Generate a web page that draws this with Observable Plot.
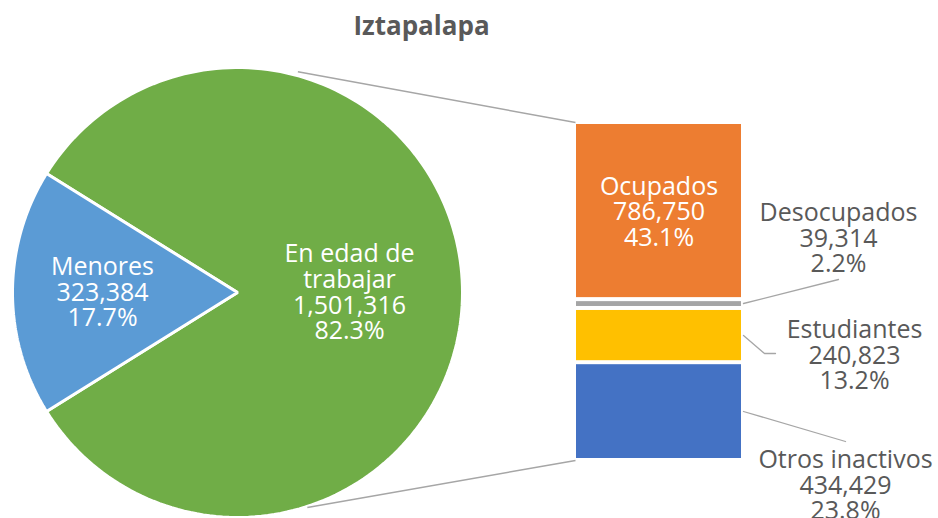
<!DOCTYPE html>
<html>
<head>
<meta charset="utf-8">
<script src="https://cdn.jsdelivr.net/npm/d3@7"></script>
<script src="https://cdn.jsdelivr.net/npm/@observablehq/plot@0.6"></script>
<style>
  html, body { margin: 0; padding: 0; background: #ffffff; }
  #chart { width: 938px; height: 518px; }
</style>
</head>
<body>
<div id="chart"></div>
<script>
// ---- Data ----
const title = "Iztapalapa";
const pieLabels = ["Menores", "En edad de\ntrabajar"];
const pieValues = [323384, 1501316];
const piePct = ["17.7%", "82.3%"];
const pieColors = ["#5B9BD5", "#70AD47"];

const barLabels = ["Ocupados", "Desocupados", "Estudiantes", "Otros inactivos"];
const barValues = [786750, 39314, 240823, 434429];
const barPct = ["43.1%", "2.2%", "13.2%", "23.8%"];
const barColors = ["#ED7D31", "#A5A5A5", "#FFC000", "#4472C4"];

// ---- Layout (pixel geometry) ----
const W = 938, H = 518;
const pie = {cx: 237, cy: 292, r: 225};
const bar = {x1: 576, x2: 741, top: 122, bottom: 460, inset: 2};
const textColor = "#595959";
const lineColor = "#A6A6A6";
const fmt = d3.format(",");
const labelFont = 25;
const labelLH = 1.03;

// Pie wedges
const total = d3.sum(pieValues);
const aMen = 2 * Math.PI * pieValues[0] / total;
const sliceAngles = [
  [Math.PI - aMen / 2, Math.PI + aMen / 2],
  [Math.PI + aMen / 2, 3 * Math.PI - aMen / 2]
];
function pt(theta, r) {
  return {x: pie.cx + r * Math.cos(theta), y: pie.cy - r * Math.sin(theta)};
}
const wedges = pieLabels.map((lab, i) => {
  const [a0, a1] = sliceAngles[i];
  const n = 180;
  const pts = [{x: pie.cx, y: pie.cy}];
  for (let k = 0; k <= n; k++) pts.push(pt(a0 + (a1 - a0) * k / n, pie.r));
  return pts.map(p => ({...p, slice: i}));
});

// Bar stack
const barTotal = d3.sum(barValues);
const yScaleBar = v => bar.top + (bar.bottom - bar.top) * v / barTotal;
let acc = 0;
const barRects = barValues.map((v, i) => {
  const r = {i, label: barLabels[i], y1: yScaleBar(acc) + bar.inset, y2: yScaleBar(acc + v) - bar.inset, x1: bar.x1, x2: bar.x2};
  acc += v;
  return r;
});

// Connector lines between pie and bar
const topPie = pt(74.5 * Math.PI / 180, pie.r + 1);
const botPie = pt(-72 * Math.PI / 180, pie.r + 1);
const connectors = [
  {x1: topPie.x, y1: topPie.y - 3, x2: bar.x1 - 1, y2: bar.top},
  {x1: botPie.x, y1: botPie.y, x2: bar.x1 - 1, y2: bar.bottom}
];

// Label texts
const pieText = pieLabels.map((l, i) => ({
  text: `${l}\n${fmt(pieValues[i])}\n${piePct[i]}`,
  x: i === 0 ? 102 : 349,
  y: pie.cy
}));
const barTextPos = [
  {x: (bar.x1 + bar.x2) / 2, y: (barRects[0].y1 + barRects[0].y2) / 2 + 1, color: "white"},
  {x: 838, y: 238, color: textColor},
  {x: 854, y: 355, color: textColor},
  {x: 845, y: 485, color: textColor}
];
const barText = barLabels.map((l, i) => ({
  text: `${l}\n${fmt(barValues[i])}\n${barPct[i]}`,
  ...barTextPos[i]
}));

// Leader lines for outside labels
const leaders = [
  [{x: 743, y: 303}, {x: 838, y: 279}],
  [{x: 743, y: 335}, {x: 764, y: 353}, {x: 775, y: 353}],
  [{x: 743, y: 411}, {x: 845, y: 441}]
].flatMap((pts, k) => pts.map(p => ({...p, k})));

const chart = Plot.plot({
  width: W,
  height: H,
  margin: 0,
  x: {domain: [0, W], range: [0, W], axis: null},
  y: {domain: [0, H], range: [0, H], axis: null},
  style: {fontFamily: "'Open Sans', sans-serif", background: "white"},
  marks: [
    Plot.line(wedges[1], {x: "x", y: "y", fill: pieColors[1], stroke: "white", strokeWidth: 3, strokeLinejoin: "miter", curve: "linear-closed"}),
    Plot.line(wedges[0], {x: "x", y: "y", fill: pieColors[0], stroke: "white", strokeWidth: 3, strokeLinejoin: "miter", curve: "linear-closed"}),
    Plot.link(connectors, {x1: "x1", y1: "y1", x2: "x2", y2: "y2", stroke: lineColor, strokeWidth: 1.5}),
    Plot.rect(barRects, {x1: "x1", x2: "x2", y1: "y1", y2: "y2", fill: (d) => barColors[d.i]}),
    Plot.line(leaders, {x: "x", y: "y", z: "k", stroke: lineColor, strokeWidth: 1.3}),
    Plot.text(pieText, {x: "x", y: "y", text: "text", fill: "white", fontSize: labelFont, lineHeight: labelLH, textAnchor: "middle"}),
    Plot.text(barText, {x: "x", y: "y", text: "text", fill: "color", fontSize: labelFont, lineHeight: labelLH, textAnchor: "middle"}),
    Plot.text([title], {x: () => 421, y: () => 26, text: d => d, fill: textColor, fontSize: 26, fontWeight: "bold"})
  ]
});
document.getElementById("chart").appendChild(chart);
</script>
</body>
</html>
